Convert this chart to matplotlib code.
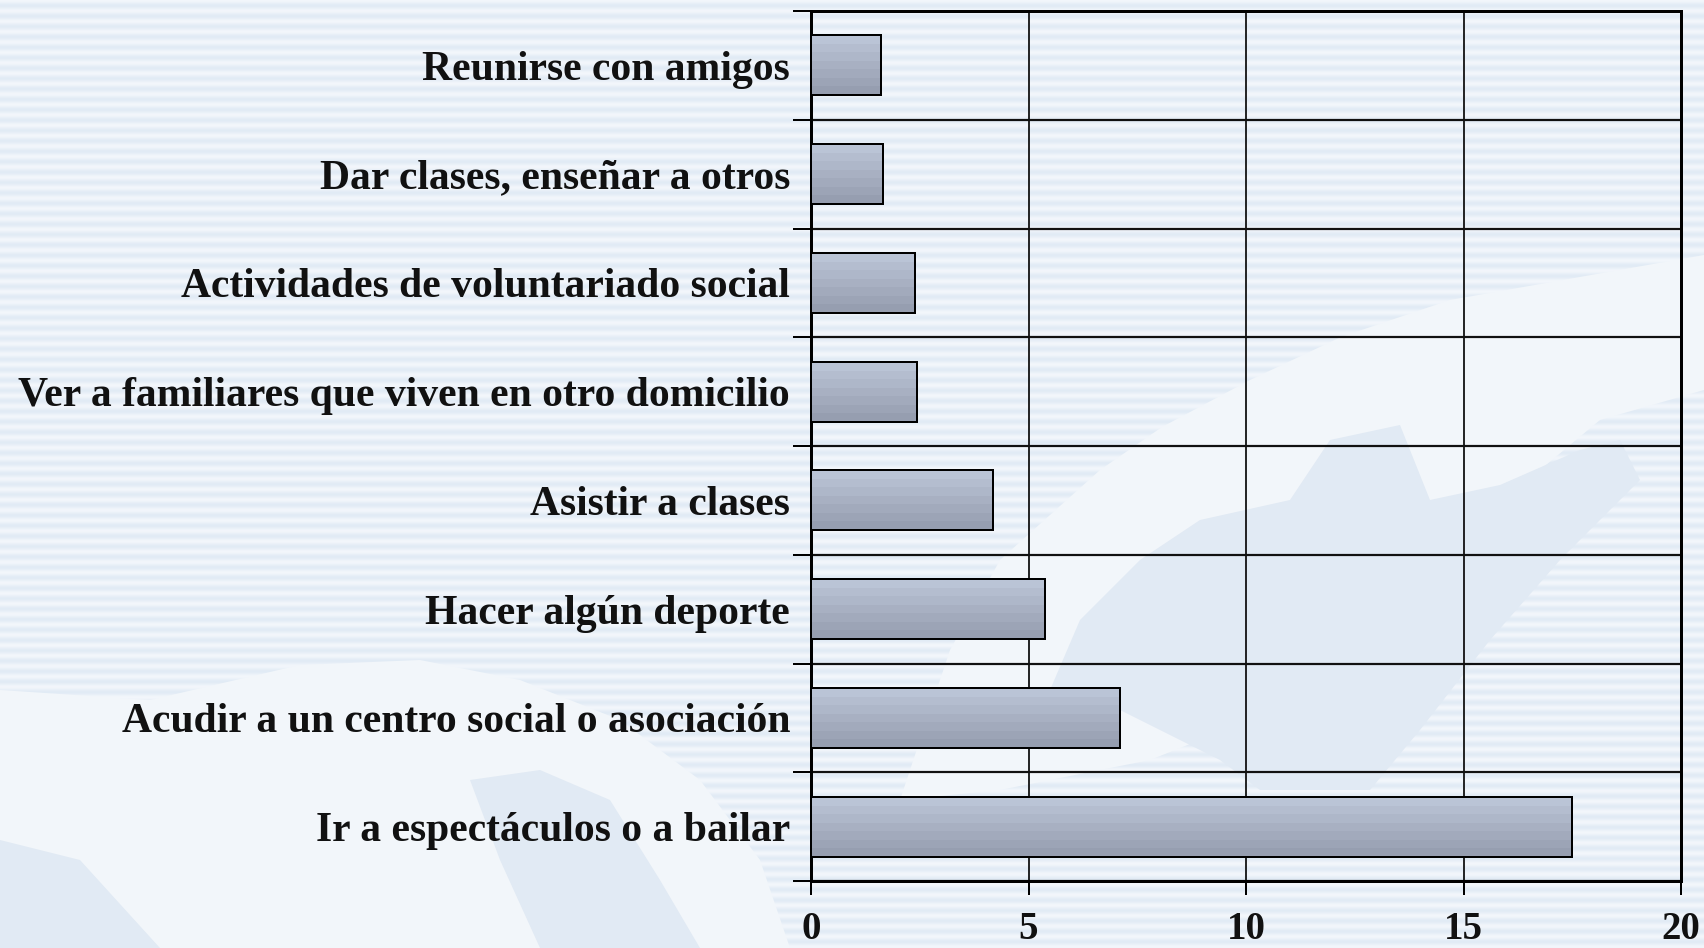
import numpy as np
import matplotlib
matplotlib.use("Agg")
import matplotlib.pyplot as plt
from matplotlib.colors import LinearSegmentedColormap
from matplotlib.patches import Polygon

# ── Data ─────────────────────────────────────────────────────────────
categories = [
    "Reunirse con amigos",
    "Dar clases, enseñar a otros",
    "Actividades de voluntariado social",
    "Ver a familiares que viven en otro domicilio",
    "Asistir a clases",
    "Hacer algún deporte",
    "Acudir a un centro social o asociación",
    "Ir a espectáculos o a bailar",
]
values = [1.6, 1.65, 2.38, 2.43, 4.18, 5.38, 7.1, 17.5]
x_ticks = [0, 5, 10, 15, 20]

W, H = 1704, 948
PT = 72 / 100          # pixels -> points at dpi 100
fig = plt.figure(figsize=(W / 100, H / 100), dpi=100)

# ── Striped background with faint hand shapes ────────────────────────
bg = fig.add_axes([0, 0, 1, 1], zorder=-10)
rows = np.arange(H)
phase = (rows % 10.4) / 10.4
stripe = 0.5 + 0.5 * np.cos(2 * np.pi * phase)
light = np.array([0.95, 0.965, 0.985])
dark = np.array([0.885, 0.922, 0.962])
img = light[None, :] * stripe[:, None] + dark[None, :] * (1 - stripe[:, None])
bg.imshow(np.repeat(img[:, None, :], 4, axis=1), aspect="auto",
          extent=[0, W, H, 0], interpolation="bilinear")

pale = "#f2f6fa"
shade = "#e1eaf4"
shapes = [
    ([(1000, 560), (1100, 470), (1162, 427), (1250, 380), (1341, 337), (1450, 300),
      (1704, 255), (1704, 390), (1600, 420), (1540, 470), (1480, 560), (1420, 650),
      (1300, 700), (1150, 760), (1000, 790), (900, 800), (950, 650)], pale),
    ([(1140, 560), (1200, 520), (1290, 500), (1330, 440), (1400, 425), (1430, 500),
      (1500, 485), (1580, 450), (1620, 440), (1640, 480), (1560, 560), (1490, 640),
      (1420, 730), (1370, 790), (1260, 790), (1220, 760), (1100, 700), (1050, 690),
      (1080, 620)], shade),
    ([(0, 690), (150, 700), (300, 665), (420, 660), (520, 680), (620, 720), (700, 780),
      (760, 860), (790, 948), (0, 948)], pale),
    ([(470, 780), (540, 770), (610, 800), (660, 880), (700, 948), (540, 948),
      (500, 860)], shade),
    ([(0, 840), (80, 860), (160, 948), (0, 948)], shade),
]
for pts, col in shapes:
    bg.add_patch(Polygon(pts, closed=True, facecolor=col, edgecolor="none", zorder=2))
bg.set_xlim(0, W); bg.set_ylim(H, 0)
bg.axis("off")

# ── Main axes ────────────────────────────────────────────────────────
ax = fig.add_axes([811 / W, 1 - 881 / H, (1681 - 811) / W, (881 - 11) / H])
ax.patch.set_alpha(0)

y = np.arange(len(categories))
bars = ax.barh(y, values, height=0.55, facecolor="none",
               edgecolor="black", linewidth=2 * PT, zorder=4)

cmap = LinearSegmentedColormap.from_list("bar", ["#bac4d6", "#a9b1c3", "#969eb0"])
grad = np.linspace(0, 1, 7)[:, None]
for rect in bars:
    x0, y0 = rect.get_x(), rect.get_y()
    w, h = rect.get_width(), rect.get_height()
    im = ax.imshow(grad, cmap=cmap, aspect="auto", interpolation="nearest",
                   extent=[x0, x0 + w, y0 + h, y0], zorder=3)
    im.set_clip_path(rect)

ax.set_ylim(len(categories) - 0.5, -0.5)
ax.set_xlim(0, 20)

ax.set_yticks(y)
ax.set_yticklabels(categories)
ax.tick_params(axis="y", which="major", length=0, pad=21 * PT)
ax.set_yticks(np.arange(-0.5, len(categories), 1), minor=True)
ax.tick_params(axis="y", which="minor", length=18 * PT, width=2 * PT)
ax.grid(True, axis="y", which="minor", color="#111111", linewidth=2.2 * PT)

ax.set_xticks(x_ticks)
ax.tick_params(axis="x", which="major", length=14 * PT, width=2 * PT, pad=16 * PT)
ax.grid(True, axis="x", which="major", color="#111111", linewidth=1.8 * PT)
ax.set_axisbelow(True)

for s in ax.spines.values():
    s.set_linewidth(3 * PT)
    s.set_color("black")

for lab in ax.get_yticklabels():
    lab.set_fontfamily("Liberation Serif")
    lab.set_fontweight("bold")
    lab.set_fontsize(30)
    lab.set_color("#111111")
for lab in ax.get_xticklabels():
    lab.set_fontfamily("Liberation Serif")
    lab.set_fontweight("bold")
    lab.set_fontsize(28)
    lab.set_color("#111111")

fig.savefig("out.png", dpi=100)
